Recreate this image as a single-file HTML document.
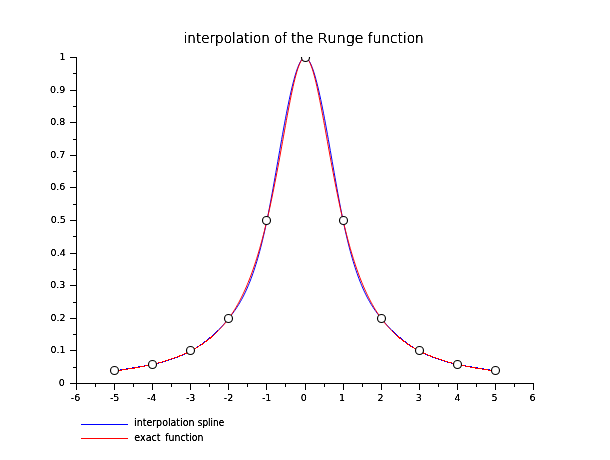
<!DOCTYPE html>
<html><head><meta charset="utf-8"><title>interpolation of the Runge function</title>
<style>html,body{margin:0;padding:0;background:#fff;width:610px;height:460px;overflow:hidden}svg{display:block}</style>
</head><body>
<svg width="610" height="460" viewBox="0 0 610 460">
<defs><filter id="sh" x="-5%" y="-20%" width="110%" height="140%"><feComponentTransfer><feFuncA type="linear" slope="1.6" intercept="-0.1"/></feComponentTransfer></filter></defs>
<defs><filter id="sht" x="-5%" y="-20%" width="110%" height="140%"><feComponentTransfer><feFuncA type="linear" slope="2.3" intercept="0"/></feComponentTransfer></filter></defs>
<g filter="url(#sht)" font-weight="200">
<text id="t0" x="183.62" y="43" font-family="DejaVu Sans, Liberation Sans, sans-serif" font-size="14" textLength="86.26" lengthAdjust="spacingAndGlyphs">interpolation</text>
<text id="t1" x="274.18" y="43" font-family="DejaVu Sans, Liberation Sans, sans-serif" font-size="14" textLength="12.58" lengthAdjust="spacingAndGlyphs">of</text>
<text id="t2" x="290.91" y="43" font-family="DejaVu Sans, Liberation Sans, sans-serif" font-size="14" textLength="22.58" lengthAdjust="spacingAndGlyphs">the</text>
<text id="t3" x="317.59" y="43" font-family="DejaVu Sans, Liberation Sans, sans-serif" font-size="14" textLength="46.09" lengthAdjust="spacingAndGlyphs">Runge</text>
<text id="t4" x="367.87" y="43" font-family="DejaVu Sans, Liberation Sans, sans-serif" font-size="14" textLength="55.95" lengthAdjust="spacingAndGlyphs">function</text>
</g>
<g filter="url(#sh)">
<text id="y0" x="64.72" y="386" font-family="DejaVu Sans, Liberation Sans, sans-serif" font-size="9.5" text-anchor="end">0</text>
<text id="y1" x="65.66" y="353" font-family="DejaVu Sans, Liberation Sans, sans-serif" font-size="9.5" text-anchor="end">0.1</text>
<text id="y2" x="65.50" y="321" font-family="DejaVu Sans, Liberation Sans, sans-serif" font-size="9.5" text-anchor="end">0.2</text>
<text id="y3" x="65.26" y="288" font-family="DejaVu Sans, Liberation Sans, sans-serif" font-size="9.5" text-anchor="end">0.3</text>
<text id="y4" x="65.72" y="256" font-family="DejaVu Sans, Liberation Sans, sans-serif" font-size="9.5" text-anchor="end">0.4</text>
<text id="y5" x="65.76" y="223" font-family="DejaVu Sans, Liberation Sans, sans-serif" font-size="9.5" text-anchor="end">0.5</text>
<text id="y6" x="65.30" y="190" font-family="DejaVu Sans, Liberation Sans, sans-serif" font-size="9.5" text-anchor="end">0.6</text>
<text id="y7" x="65.37" y="158" font-family="DejaVu Sans, Liberation Sans, sans-serif" font-size="9.5" text-anchor="end">0.7</text>
<text id="y8" x="65.42" y="125" font-family="DejaVu Sans, Liberation Sans, sans-serif" font-size="9.5" text-anchor="end">0.8</text>
<text id="y9" x="65.22" y="93" font-family="DejaVu Sans, Liberation Sans, sans-serif" font-size="9.5" text-anchor="end">0.9</text>
<text id="y10" x="65.53" y="60" font-family="DejaVu Sans, Liberation Sans, sans-serif" font-size="9.5" text-anchor="end">1</text>
<text id="x0" x="70.78" y="401" font-family="DejaVu Sans, Liberation Sans, sans-serif" font-size="9.5">-6</text>
<text id="x1" x="109.90" y="401" font-family="DejaVu Sans, Liberation Sans, sans-serif" font-size="9.5">-5</text>
<text id="x2" x="146.89" y="401" font-family="DejaVu Sans, Liberation Sans, sans-serif" font-size="9.5">-4</text>
<text id="x3" x="185.88" y="401" font-family="DejaVu Sans, Liberation Sans, sans-serif" font-size="9.5">-3</text>
<text id="x4" x="223.85" y="401" font-family="DejaVu Sans, Liberation Sans, sans-serif" font-size="9.5">-2</text>
<text id="x5" x="261.90" y="401" font-family="DejaVu Sans, Liberation Sans, sans-serif" font-size="9.5">-1</text>
<text id="x6" x="300.67" y="401" font-family="DejaVu Sans, Liberation Sans, sans-serif" font-size="9.5">0</text>
<text id="x7" x="339.09" y="401" font-family="DejaVu Sans, Liberation Sans, sans-serif" font-size="9.5">1</text>
<text id="x8" x="377.50" y="401" font-family="DejaVu Sans, Liberation Sans, sans-serif" font-size="9.5">2</text>
<text id="x9" x="415.63" y="401" font-family="DejaVu Sans, Liberation Sans, sans-serif" font-size="9.5">3</text>
<text id="x10" x="454.62" y="401" font-family="DejaVu Sans, Liberation Sans, sans-serif" font-size="9.5">4</text>
<text id="x11" x="491.47" y="401" font-family="DejaVu Sans, Liberation Sans, sans-serif" font-size="9.5">5</text>
<text id="x12" x="529.41" y="401" font-family="DejaVu Sans, Liberation Sans, sans-serif" font-size="9.5">6</text>
<text id="l0" x="134.05" y="426" font-family="DejaVu Sans, Liberation Sans, sans-serif" font-size="9.6" textLength="60.48" lengthAdjust="spacingAndGlyphs">interpolation</text>
<text id="l1" x="197.85" y="426" font-family="DejaVu Sans, Liberation Sans, sans-serif" font-size="9.6" textLength="26.29" lengthAdjust="spacingAndGlyphs">spline</text>
<text id="l2" x="134.29" y="441" font-family="DejaVu Sans, Liberation Sans, sans-serif" font-size="9.6" textLength="26.26" lengthAdjust="spacingAndGlyphs">exact</text>
<text id="l3" x="165.26" y="441" font-family="DejaVu Sans, Liberation Sans, sans-serif" font-size="9.6" textLength="38.16" lengthAdjust="spacingAndGlyphs">function</text>
</g>
<path d="M76.5,57 V384 M76,383.5 H534 M70,383.5 H76 M70,350.5 H76 M70,318.5 H76 M70,285.5 H76 M70,253.5 H76 M70,220.5 H76 M70,187.5 H76 M70,155.5 H76 M70,122.5 H76 M70,90.5 H76 M70,57.5 H76 M73,367.5 H76 M73,334.5 H76 M73,302.5 H76 M73,269.5 H76 M73,236.5 H76 M73,204.5 H76 M73,171.5 H76 M73,139.5 H76 M73,106.5 H76 M73,73.5 H76 M76.5,384 V390 M114.5,384 V390 M152.5,384 V390 M190.5,384 V390 M228.5,384 V390 M266.5,384 V390 M305.5,384 V390 M343.5,384 V390 M381.5,384 V390 M419.5,384 V390 M457.5,384 V390 M495.5,384 V390 M533.5,384 V390 M95.5,384 V387 M133.5,384 V387 M171.5,384 V387 M209.5,384 V387 M247.5,384 V387 M285.5,384 V387 M324.5,384 V387 M362.5,384 V387 M400.5,384 V387 M438.5,384 V387 M476.5,384 V387 M514.5,384 V387" stroke="#000" stroke-width="1" fill="none" shape-rendering="crispEdges"/>
<defs><clipPath id="cp"><rect x="76" y="57" width="458" height="327"/></clipPath></defs>
<g clip-path="url(#cp)" fill="none" stroke-width="1">
<path d="M114.58,370.96 L115.54,370.78 L116.49,370.60 L117.45,370.43 L118.40,370.25 L119.36,370.09 L120.31,369.92 L121.26,369.75 L122.22,369.59 L123.17,369.43 L124.13,369.27 L125.08,369.11 L126.04,368.95 L126.99,368.80 L127.95,368.64 L128.90,368.49 L129.85,368.34 L130.81,368.18 L131.76,368.03 L132.72,367.88 L133.67,367.72 L134.63,367.57 L135.58,367.41 L136.54,367.26 L137.49,367.10 L138.45,366.95 L139.40,366.79 L140.35,366.63 L141.31,366.46 L142.26,366.30 L143.22,366.13 L144.17,365.96 L145.13,365.79 L146.08,365.62 L147.04,365.44 L147.99,365.26 L148.94,365.08 L149.90,364.89 L150.85,364.70 L151.81,364.50 L152.76,364.30 L153.72,364.10 L154.67,363.89 L155.63,363.68 L156.58,363.46 L157.53,363.24 L158.49,363.01 L159.44,362.78 L160.40,362.54 L161.35,362.30 L162.31,362.05 L163.26,361.79 L164.22,361.53 L165.17,361.26 L166.12,360.98 L167.08,360.70 L168.03,360.41 L168.99,360.11 L169.94,359.80 L170.90,359.49 L171.85,359.17 L172.81,358.84 L173.76,358.50 L174.71,358.16 L175.67,357.80 L176.62,357.44 L177.58,357.07 L178.53,356.69 L179.49,356.30 L180.44,355.89 L181.40,355.48 L182.35,355.06 L183.31,354.63 L184.26,354.19 L185.21,353.74 L186.17,353.28 L187.12,352.80 L188.08,352.32 L189.03,351.82 L189.99,351.31 L190.94,350.80 L191.90,350.26 L192.85,349.72 L193.80,349.16 L194.76,348.60 L195.71,348.01 L196.67,347.42 L197.62,346.81 L198.58,346.19 L199.53,345.56 L200.49,344.91 L201.44,344.25 L202.39,343.57 L203.35,342.88 L204.30,342.17 L205.26,341.45 L206.21,340.71 L207.17,339.96 L208.12,339.20 L209.08,338.41 L210.03,337.61 L210.98,336.80 L211.94,335.97 L212.89,335.12 L213.85,334.26 L214.80,333.37 L215.76,332.47 L216.71,331.56 L217.67,330.62 L218.62,329.67 M302.61,58.66 L303.57,57.92 L304.52,57.55 L305.48,57.55 L306.43,57.92 L307.39,58.66 M391.38,329.67 L392.33,330.62 L393.29,331.56 L394.24,332.47 L395.20,333.37 L396.15,334.26 L397.11,335.12 L398.06,335.97 L399.02,336.80 L399.97,337.61 L400.92,338.41 L401.88,339.20 L402.83,339.96 L403.79,340.71 L404.74,341.45 L405.70,342.17 L406.65,342.88 L407.61,343.57 L408.56,344.25 L409.51,344.91 L410.47,345.56 L411.42,346.19 L412.38,346.81 L413.33,347.42 L414.29,348.01 L415.24,348.60 L416.20,349.16 L417.15,349.72 L418.10,350.26 L419.06,350.80 L420.01,351.31 L420.97,351.82 L421.92,352.32 L422.88,352.80 L423.83,353.28 L424.79,353.74 L425.74,354.19 L426.69,354.63 L427.65,355.06 L428.60,355.48 L429.56,355.89 L430.51,356.30 L431.47,356.69 L432.42,357.07 L433.38,357.44 L434.33,357.80 L435.29,358.16 L436.24,358.50 L437.19,358.84 L438.15,359.17 L439.10,359.49 L440.06,359.80 L441.01,360.11 L441.97,360.41 L442.92,360.70 L443.88,360.98 L444.83,361.26 L445.78,361.53 L446.74,361.79 L447.69,362.05 L448.65,362.30 L449.60,362.54 L450.56,362.78 L451.51,363.01 L452.47,363.24 L453.42,363.46 L454.37,363.68 L455.33,363.89 L456.28,364.10 L457.24,364.30 L458.19,364.50 L459.15,364.70 L460.10,364.89 L461.06,365.08 L462.01,365.26 L462.96,365.44 L463.92,365.62 L464.87,365.79 L465.83,365.96 L466.78,366.13 L467.74,366.30 L468.69,366.46 L469.65,366.63 L470.60,366.79 L471.55,366.95 L472.51,367.10 L473.46,367.26 L474.42,367.41 L475.37,367.57 L476.33,367.72 L477.28,367.88 L478.24,368.03 L479.19,368.18 L480.15,368.34 L481.10,368.49 L482.05,368.64 L483.01,368.80 L483.96,368.95 L484.92,369.11 L485.87,369.27 L486.83,369.43 L487.78,369.59 L488.74,369.75 L489.69,369.92 L490.64,370.09 L491.60,370.25 L492.55,370.43 L493.51,370.60 L494.46,370.78 L495.42,370.96" stroke="#0000ff" shape-rendering="crispEdges"/>
<path d="M218.62,329.67 L219.57,328.70 L220.53,327.71 L221.48,326.70 L222.44,325.68 L223.39,324.63 L224.35,323.57 L225.30,322.48 L226.26,321.38 L227.21,320.26 L228.17,319.11 L229.12,317.95 L230.07,316.76 L231.03,315.55 L231.98,314.32 L232.94,313.05 L233.89,311.74 L234.85,310.40 L235.80,309.02 L236.76,307.59 L237.71,306.11 L238.66,304.59 L239.62,303.01 L240.57,301.37 L241.53,299.67 L242.48,297.90 L243.44,296.07 L244.39,294.17 L245.35,292.19 L246.30,290.14 L247.25,288.00 L248.21,285.78 L249.16,283.48 L250.12,281.08 L251.07,278.59 L252.03,276.00 L252.98,273.31 L253.94,270.51 L254.89,267.61 L255.84,264.60 L256.80,261.48 L257.75,258.24 L258.71,254.87 L259.66,251.39 L260.62,247.77 L261.57,244.03 L262.53,240.15 L263.48,236.14 L264.44,231.98 L265.39,227.68 L266.34,223.24 L267.30,218.64 L268.25,213.90 L269.21,209.03 L270.16,204.03 L271.12,198.93 L272.07,193.74 L273.03,188.46 L273.98,183.12 L274.93,177.73 L275.89,172.30 L276.84,166.84 L277.80,161.37 L278.75,155.90 L279.71,150.44 L280.66,145.02 L281.62,139.63 L282.57,134.30 L283.52,129.03 L284.48,123.85 L285.43,118.76 L286.39,113.78 L287.34,108.92 L288.30,104.20 L289.25,99.62 L290.21,95.21 L291.16,90.97 L292.11,86.92 L293.07,83.07 L294.02,79.44 L294.98,76.04 L295.93,72.88 L296.89,69.97 L297.84,67.33 L298.80,64.98 L299.75,62.92 L300.70,61.18 L301.66,59.75 L302.61,58.66 M307.39,58.66 L308.34,59.75 L309.30,61.18 L310.25,62.92 L311.20,64.98 L312.16,67.33 L313.11,69.97 L314.07,72.88 L315.02,76.04 L315.98,79.44 L316.93,83.07 L317.89,86.92 L318.84,90.97 L319.79,95.21 L320.75,99.62 L321.70,104.20 L322.66,108.92 L323.61,113.78 L324.57,118.76 L325.52,123.85 L326.48,129.03 L327.43,134.30 L328.38,139.63 L329.34,145.02 L330.29,150.44 L331.25,155.90 L332.20,161.37 L333.16,166.84 L334.11,172.30 L335.07,177.73 L336.02,183.12 L336.97,188.46 L337.93,193.74 L338.88,198.93 L339.84,204.03 L340.79,209.03 L341.75,213.90 L342.70,218.64 L343.66,223.24 L344.61,227.68 L345.56,231.98 L346.52,236.14 L347.47,240.15 L348.43,244.03 L349.38,247.77 L350.34,251.39 L351.29,254.87 L352.25,258.24 L353.20,261.48 L354.16,264.60 L355.11,267.61 L356.06,270.51 L357.02,273.31 L357.97,276.00 L358.93,278.59 L359.88,281.08 L360.84,283.48 L361.79,285.78 L362.75,288.00 L363.70,290.14 L364.65,292.19 L365.61,294.17 L366.56,296.07 L367.52,297.90 L368.47,299.67 L369.43,301.37 L370.38,303.01 L371.34,304.59 L372.29,306.11 L373.24,307.59 L374.20,309.02 L375.15,310.40 L376.11,311.74 L377.06,313.05 L378.02,314.32 L378.97,315.55 L379.93,316.76 L380.88,317.95 L381.83,319.11 L382.79,320.26 L383.74,321.38 L384.70,322.48 L385.65,323.57 L386.61,324.63 L387.56,325.68 L388.52,326.70 L389.47,327.71 L390.43,328.70 L391.38,329.67" stroke="#0000ff" shape-rendering="geometricPrecision"/>
<path d="M114.58,370.96 L115.54,370.84 L116.49,370.72 L117.45,370.59 L118.40,370.46 L119.36,370.33 L120.31,370.20 L121.26,370.07 L122.22,369.94 L123.17,369.80 L124.13,369.66 L125.08,369.52 L126.04,369.38 L126.99,369.23 L127.95,369.08 L128.90,368.93 L129.85,368.78 L130.81,368.63 L131.76,368.47 L132.72,368.31 L133.67,368.15 L134.63,367.99 L135.58,367.82 L136.54,367.65 L137.49,367.48 L138.45,367.30 L139.40,367.12 L140.35,366.94 L141.31,366.76 L142.26,366.57 L143.22,366.38 L144.17,366.19 L145.13,365.99 L146.08,365.80 L147.04,365.59 L147.99,365.39 L148.94,365.18 L149.90,364.96 L150.85,364.75 L151.81,364.53 L152.76,364.30 L153.72,364.07 L154.67,363.84 L155.63,363.60 L156.58,363.36 L157.53,363.12 L158.49,362.87 L159.44,362.61 L160.40,362.35 L161.35,362.09 L162.31,361.82 L163.26,361.55 L164.22,361.27 L165.17,360.99 L166.12,360.70 L167.08,360.41 L168.03,360.11 L168.99,359.80 L169.94,359.49 L170.90,359.17 L171.85,358.85 L172.81,358.52 L173.76,358.18 L174.71,357.84 L175.67,357.49 L176.62,357.13 L177.58,356.77 L178.53,356.40 L179.49,356.02 L180.44,355.63 L181.40,355.24 L182.35,354.83 L183.31,354.42 L184.26,354.00 L185.21,353.57 L186.17,353.14 L187.12,352.69 L188.08,352.23 L189.03,351.77 L189.99,351.29 L190.94,350.80 L191.90,350.30 L192.85,349.80 L193.80,349.28 L194.76,348.74 L195.71,348.20 L196.67,347.64 L197.62,347.07 L198.58,346.49 L199.53,345.90 L200.49,345.29 L201.44,344.67 L202.39,344.03 L203.35,343.37 L204.30,342.71 L205.26,342.02 L206.21,341.32 L207.17,340.60 L208.12,339.87 L209.08,339.11 L210.03,338.34 L210.98,337.55 L211.94,336.74 L212.89,335.90 L213.85,335.05 L214.80,334.18 L215.76,333.28 L216.71,332.36 L217.67,331.41 M302.61,58.77 L303.57,57.96 L304.52,57.55 L305.48,57.55 L306.43,57.96 L307.39,58.77 M392.33,331.41 L393.29,332.36 L394.24,333.28 L395.20,334.18 L396.15,335.05 L397.11,335.90 L398.06,336.74 L399.02,337.55 L399.97,338.34 L400.92,339.11 L401.88,339.87 L402.83,340.60 L403.79,341.32 L404.74,342.02 L405.70,342.71 L406.65,343.37 L407.61,344.03 L408.56,344.67 L409.51,345.29 L410.47,345.90 L411.42,346.49 L412.38,347.07 L413.33,347.64 L414.29,348.20 L415.24,348.74 L416.20,349.28 L417.15,349.80 L418.10,350.30 L419.06,350.80 L420.01,351.29 L420.97,351.77 L421.92,352.23 L422.88,352.69 L423.83,353.14 L424.79,353.57 L425.74,354.00 L426.69,354.42 L427.65,354.83 L428.60,355.24 L429.56,355.63 L430.51,356.02 L431.47,356.40 L432.42,356.77 L433.38,357.13 L434.33,357.49 L435.29,357.84 L436.24,358.18 L437.19,358.52 L438.15,358.85 L439.10,359.17 L440.06,359.49 L441.01,359.80 L441.97,360.11 L442.92,360.41 L443.88,360.70 L444.83,360.99 L445.78,361.27 L446.74,361.55 L447.69,361.82 L448.65,362.09 L449.60,362.35 L450.56,362.61 L451.51,362.87 L452.47,363.12 L453.42,363.36 L454.37,363.60 L455.33,363.84 L456.28,364.07 L457.24,364.30 L458.19,364.53 L459.15,364.75 L460.10,364.96 L461.06,365.18 L462.01,365.39 L462.96,365.59 L463.92,365.80 L464.87,365.99 L465.83,366.19 L466.78,366.38 L467.74,366.57 L468.69,366.76 L469.65,366.94 L470.60,367.12 L471.55,367.30 L472.51,367.48 L473.46,367.65 L474.42,367.82 L475.37,367.99 L476.33,368.15 L477.28,368.31 L478.24,368.47 L479.19,368.63 L480.15,368.78 L481.10,368.93 L482.05,369.08 L483.01,369.23 L483.96,369.38 L484.92,369.52 L485.87,369.66 L486.83,369.80 L487.78,369.94 L488.74,370.07 L489.69,370.20 L490.64,370.33 L491.60,370.46 L492.55,370.59 L493.51,370.72 L494.46,370.84 L495.42,370.96" stroke="#ff0000" shape-rendering="crispEdges"/>
<path d="M217.67,331.41 L218.62,330.45 L219.57,329.45 L220.53,328.43 L221.48,327.38 L222.44,326.31 L223.39,325.20 L224.35,324.07 L225.30,322.90 L226.26,321.70 L227.21,320.47 L228.17,319.21 L229.12,317.91 L230.07,316.57 L231.03,315.20 L231.98,313.78 L232.94,312.33 L233.89,310.83 L234.85,309.30 L235.80,307.72 L236.76,306.09 L237.71,304.41 L238.66,302.69 L239.62,300.91 L240.57,299.09 L241.53,297.21 L242.48,295.27 L243.44,293.28 L244.39,291.22 L245.35,289.11 L246.30,286.93 L247.25,284.69 L248.21,282.38 L249.16,280.00 L250.12,277.54 L251.07,275.02 L252.03,272.42 L252.98,269.74 L253.94,266.98 L254.89,264.14 L255.84,261.22 L256.80,258.21 L257.75,255.11 L258.71,251.92 L259.66,248.64 L260.62,245.26 L261.57,241.79 L262.53,238.22 L263.48,234.55 L264.44,230.78 L265.39,226.91 L266.34,222.93 L267.30,218.86 L268.25,214.68 L269.21,210.40 L270.16,206.02 L271.12,201.54 L272.07,196.96 L273.03,192.29 L273.98,187.52 L274.93,182.67 L275.89,177.73 L276.84,172.72 L277.80,167.64 L278.75,162.49 L279.71,157.29 L280.66,152.04 L281.62,146.76 L282.57,141.46 L283.52,136.15 L284.48,130.86 L285.43,125.58 L286.39,120.35 L287.34,115.18 L288.30,110.09 L289.25,105.11 L290.21,100.25 L291.16,95.53 L292.11,90.99 L293.07,86.64 L294.02,82.50 L294.98,78.61 L295.93,74.99 L296.89,71.65 L297.84,68.63 L298.80,65.93 L299.75,63.58 L300.70,61.59 L301.66,59.99 L302.61,58.77 M307.39,58.77 L308.34,59.99 L309.30,61.59 L310.25,63.58 L311.20,65.93 L312.16,68.63 L313.11,71.65 L314.07,74.99 L315.02,78.61 L315.98,82.50 L316.93,86.64 L317.89,90.99 L318.84,95.53 L319.79,100.25 L320.75,105.11 L321.70,110.09 L322.66,115.18 L323.61,120.35 L324.57,125.58 L325.52,130.86 L326.48,136.15 L327.43,141.46 L328.38,146.76 L329.34,152.04 L330.29,157.29 L331.25,162.49 L332.20,167.64 L333.16,172.72 L334.11,177.73 L335.07,182.67 L336.02,187.52 L336.97,192.29 L337.93,196.96 L338.88,201.54 L339.84,206.02 L340.79,210.40 L341.75,214.68 L342.70,218.86 L343.66,222.93 L344.61,226.91 L345.56,230.78 L346.52,234.55 L347.47,238.22 L348.43,241.79 L349.38,245.26 L350.34,248.64 L351.29,251.92 L352.25,255.11 L353.20,258.21 L354.16,261.22 L355.11,264.14 L356.06,266.98 L357.02,269.74 L357.97,272.42 L358.93,275.02 L359.88,277.54 L360.84,280.00 L361.79,282.38 L362.75,284.69 L363.70,286.93 L364.65,289.11 L365.61,291.22 L366.56,293.28 L367.52,295.27 L368.47,297.21 L369.43,299.09 L370.38,300.91 L371.34,302.69 L372.29,304.41 L373.24,306.09 L374.20,307.72 L375.15,309.30 L376.11,310.83 L377.06,312.33 L378.02,313.78 L378.97,315.20 L379.93,316.57 L380.88,317.91 L381.83,319.21 L382.79,320.47 L383.74,321.70 L384.70,322.90 L385.65,324.07 L386.61,325.20 L387.56,326.31 L388.52,327.38 L389.47,328.43 L390.43,329.45 L391.38,330.45 L392.33,331.41" stroke="#ff0000" shape-rendering="geometricPrecision"/>
<circle cx="114.5" cy="370.5" r="4" fill="#fff" stroke="#000" stroke-width="1.15" shape-rendering="geometricPrecision"/>
<circle cx="152.5" cy="364.5" r="4" fill="#fff" stroke="#000" stroke-width="1.15" shape-rendering="geometricPrecision"/>
<circle cx="190.5" cy="350.5" r="4" fill="#fff" stroke="#000" stroke-width="1.15" shape-rendering="geometricPrecision"/>
<circle cx="228.5" cy="318.5" r="4" fill="#fff" stroke="#000" stroke-width="1.15" shape-rendering="geometricPrecision"/>
<circle cx="266.5" cy="220.5" r="4" fill="#fff" stroke="#000" stroke-width="1.15" shape-rendering="geometricPrecision"/>
<circle cx="305.5" cy="57.5" r="4" fill="#fff" stroke="#000" stroke-width="1.15" shape-rendering="geometricPrecision"/>
<circle cx="343.5" cy="220.5" r="4" fill="#fff" stroke="#000" stroke-width="1.15" shape-rendering="geometricPrecision"/>
<circle cx="381.5" cy="318.5" r="4" fill="#fff" stroke="#000" stroke-width="1.15" shape-rendering="geometricPrecision"/>
<circle cx="419.5" cy="350.5" r="4" fill="#fff" stroke="#000" stroke-width="1.15" shape-rendering="geometricPrecision"/>
<circle cx="457.5" cy="364.5" r="4" fill="#fff" stroke="#000" stroke-width="1.15" shape-rendering="geometricPrecision"/>
<circle cx="495.5" cy="370.5" r="4" fill="#fff" stroke="#000" stroke-width="1.15" shape-rendering="geometricPrecision"/>
</g>
<path d="M81,424.5 H128" stroke="#0000ff" stroke-width="1" shape-rendering="crispEdges"/>
<path d="M81,438.5 H128" stroke="#ff0000" stroke-width="1" shape-rendering="crispEdges"/>
</svg>
</body></html>
